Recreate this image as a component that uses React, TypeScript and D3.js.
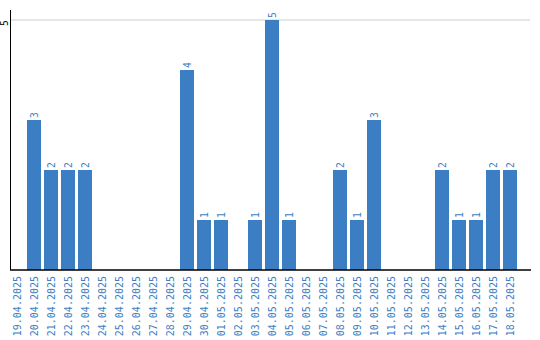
import React from "react";
import * as d3 from "d3";

const dates = [
  "19.04.2025","20.04.2025","21.04.2025","22.04.2025","23.04.2025","24.04.2025",
  "25.04.2025","26.04.2025","27.04.2025","28.04.2025","29.04.2025","30.04.2025",
  "01.05.2025","02.05.2025","03.05.2025","04.05.2025","05.05.2025","06.05.2025",
  "07.05.2025","08.05.2025","09.05.2025","10.05.2025","11.05.2025","12.05.2025",
  "13.05.2025","14.05.2025","15.05.2025","16.05.2025","17.05.2025","18.05.2025",
];
const values = [0,3,2,2,2,0,0,0,0,0,4,1,1,0,1,5,1,0,0,2,1,3,0,0,0,2,1,1,2,2];
const yTicks = [5];

const W = 540, H = 340;
const BLUE = "#3b7ec3";
const FONT = "'DejaVu Sans Mono', monospace";

export default function App() {
  const x = d3.scaleBand<string>().domain(dates).range([10, 517]).paddingInner(3 / 17).paddingOuter(0);
  const y = d3.scaleLinear().domain([0, 5]).range([270, 20]);
  return (
    <svg width={W} height={H} style={{ position: "absolute", left: 0, top: 0 }}>
      {yTicks.map((t) => (
        <g key={t}>
          <line x1={11} x2={530} y1={y(t)} y2={y(t)} stroke="#cccccc" strokeWidth={1} />
          <text
            transform={`translate(4,${y(t) + 3}) rotate(-90)`}
            textAnchor="middle"
            dominantBaseline="central"
            fontFamily={FONT}
            fontSize={9.7}
            fill="#000"
          >
            {t}
          </text>
        </g>
      ))}
      {values.map((v, i) =>
        v > 0 ? (
          <rect key={i} x={x(dates[i])} y={y(v)} width={x.bandwidth()} height={y(0) - y(v)} fill={BLUE} />
        ) : null
      )}
      {values.map((v, i) =>
        v > 0 ? (
          <text
            key={"v" + i}
            transform={`translate(${(x(dates[i]) as number) + x.bandwidth() / 2},${y(v) - 2}) rotate(-90)`}
            textAnchor="start"
            dominantBaseline="central"
            fontFamily={FONT}
            fontSize={9.7}
            fill={BLUE}
          >
            {v}
          </text>
        ) : null
      )}
      <line x1={10.5} x2={10.5} y1={10} y2={270} stroke="#000" strokeWidth={1} />
      <line x1={10} x2={531} y1={270} y2={270} stroke="#000" strokeWidth={1.5} />
      {dates.map((d) => (
        <text
          key={d}
          transform={`translate(${(x(d) as number) + x.bandwidth() / 2},276) rotate(-90)`}
          textAnchor="end"
          dominantBaseline="central"
          fontFamily={FONT}
          fontSize={10}
          fill={BLUE}
        >
          {d}
        </text>
      ))}
    </svg>
  );
}
